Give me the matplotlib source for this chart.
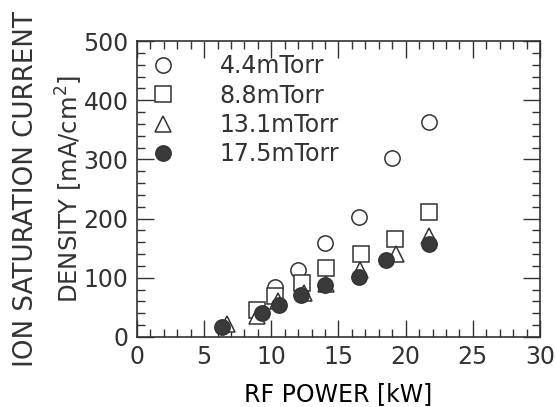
import matplotlib.pyplot as plt
from matplotlib.ticker import MultipleLocator

# RF power [kW] and ion saturation current density [mA/cm2] per pressure
power_44 = [10.3, 12.0, 14.0, 16.5, 19.0, 21.7]
dens_44 = [85, 114, 158, 203, 302, 364]

power_88 = [8.9, 10.3, 12.3, 14.1, 16.7, 19.2, 21.7]
dens_88 = [46, 70, 92, 116, 141, 165, 212]

power_131 = [6.7, 8.9, 10.5, 12.4, 14.1, 16.6, 19.3, 21.7]
dens_131 = [22, 35, 60, 74, 90, 113, 141, 170]

power_175 = [6.3, 9.3, 10.6, 12.2, 14.0, 16.5, 18.5, 21.7]
dens_175 = [17, 40, 54, 71, 88, 102, 130, 157]

labels = ['4.4mTorr', '8.8mTorr', '13.1mTorr', '17.5mTorr']

ink = '#333333'
plt.rcParams['font.family'] = ['DejaVu Sans']
plt.rcParams['font.size'] = 17
plt.rcParams['text.color'] = ink
plt.rcParams['axes.edgecolor'] = ink
plt.rcParams['xtick.color'] = ink
plt.rcParams['ytick.color'] = ink

fig = plt.figure(figsize=(5.55, 4.07), dpi=100)
ax = fig.add_axes([0.2468, 0.172, 0.7262, 0.727])

ms = 11
ax.plot(power_44, dens_44, 'o', ms=ms, mfc='white', mec=ink, mew=1.1, label=labels[0])
ax.plot(power_88, dens_88, 's', ms=ms, mfc='white', mec=ink, mew=1.1, label=labels[1])
ax.plot(power_131, dens_131, '^', ms=ms, mfc='white', mec=ink, mew=1.1, label=labels[2])
ax.plot(power_175, dens_175, 'o', ms=ms, mfc='#3a3a3a', mec=ink, mew=1.1, label=labels[3])

ax.set_xlim(0, 30)
ax.set_ylim(0, 500)
ax.xaxis.set_major_locator(MultipleLocator(5))
ax.xaxis.set_minor_locator(MultipleLocator(1))
ax.yaxis.set_major_locator(MultipleLocator(100))
ax.yaxis.set_minor_locator(MultipleLocator(20))
ax.tick_params(which='both', direction='in', top=True, right=True, width=1)
ax.tick_params(which='major', length=12, pad=6)
ax.tick_params(which='minor', length=6)
for s in ax.spines.values():
    s.set_linewidth(1.2)

ax.set_xlabel('RF POWER [kW]', labelpad=9)
fig.text(0.046, 0.535, 'ION SATURATION CURRENT', rotation=90, ha='center', va='center',
         fontsize=18.8)
fig.text(0.126, 0.536, 'DENSITY [mA/cm$^2$]', rotation=90, ha='center', va='center',
         fontsize=17.5)

ax.legend(loc='upper left', bbox_to_anchor=(0.035, 0.955), frameon=False,
          handlelength=1.0, handletextpad=1.9, labelspacing=0.22,
          borderpad=0, borderaxespad=0)

fig.savefig('out.png', dpi=100)
